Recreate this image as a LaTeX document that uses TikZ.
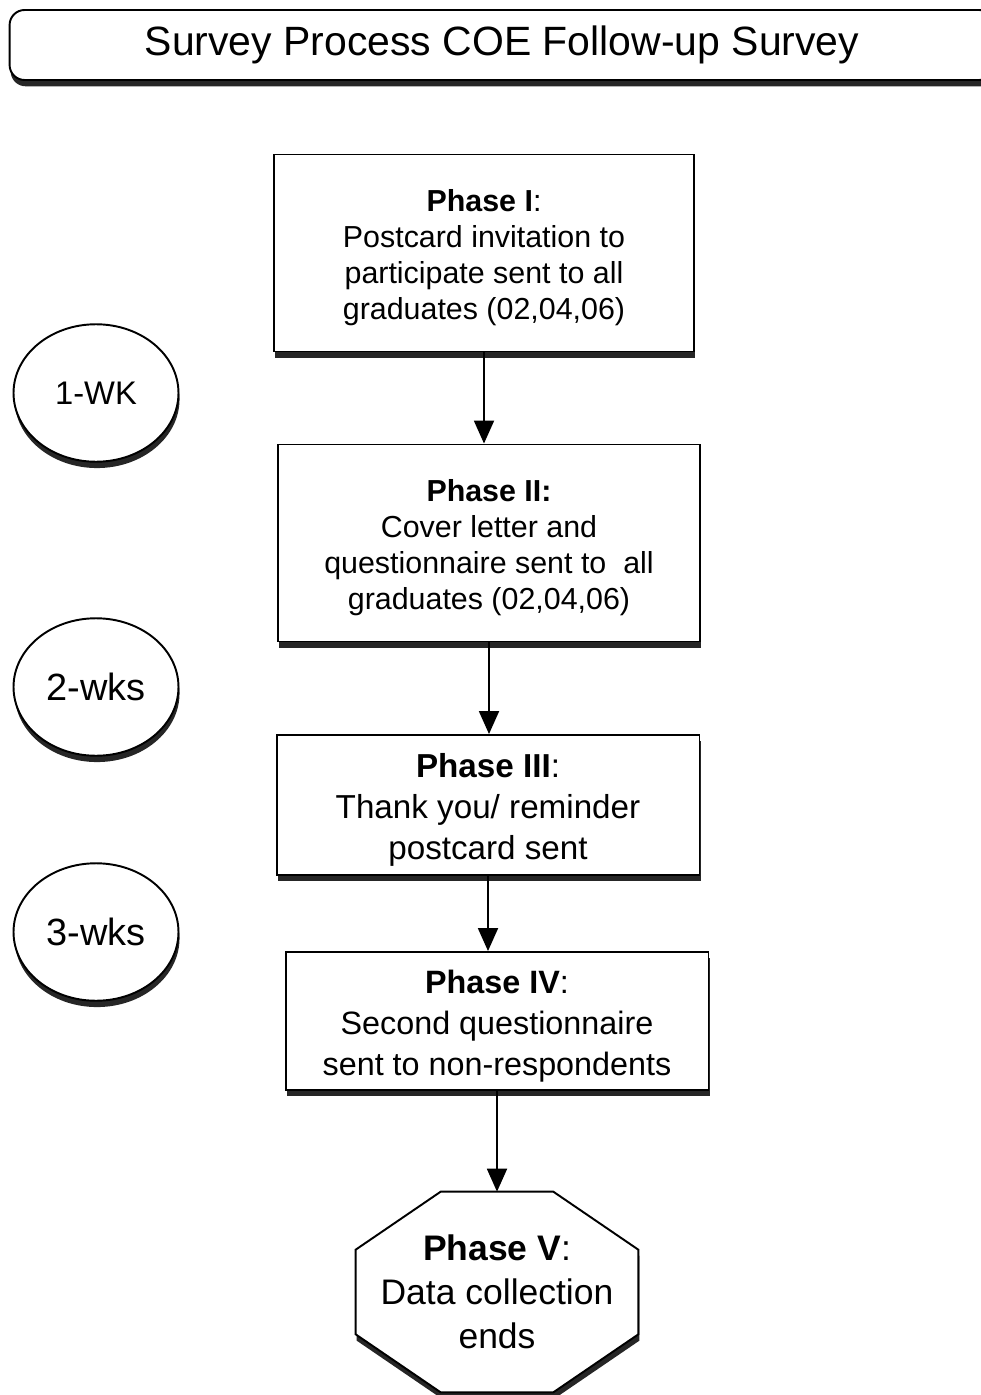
\documentclass[tikz,border=0pt]{standalone}
\usepackage{fontspec}
\setmainfont{Liberation Sans}
\usetikzlibrary{arrows.meta,shapes.geometric,shadows,calc,backgrounds}
\newcommand{\topstrut}{\rule{0pt}{1.03em}}
\begin{document}
\begin{tikzpicture}[x=0.02cm,y=-0.02cm,
  shade/.style={drop shadow={shadow xshift=0.6pt,shadow yshift=-3.6pt,fill=black,opacity=0.85}},
  phasebox/.style={draw,line width=1.1pt,fill=white,align=center,inner sep=0pt,shade},
  weekball/.style={ellipse,draw,line width=1.1pt,fill=white,inner sep=0pt,shade,
    minimum width=3.3cm,minimum height=2.75cm},
  arr/.style={line width=1.1pt,-{Triangle[length=0.46cm,width=0.4cm]}}]
\useasboundingbox (0,0) rectangle (980,1395);
\node[draw,line width=1.1pt,fill=white,shade,rounded corners=0.3cm,minimum width=19.7cm,minimum height=1.4cm,
  font=\fontsize{23.3}{28}\selectfont](title) at (502,45){Survey Process COE Follow-up Survey};
\node[phasebox,minimum width=8.4cm,minimum height=3.94cm,font=\fontsize{17.3}{20.5}\selectfont]
  (p1) at (484,253){\topstrut\textbf{Phase I}:\\Postcard invitation to\\participate sent to all\\graduates (02,04,06)};
\node[phasebox,minimum width=8.44cm,minimum height=3.94cm,font=\fontsize{17.3}{20.5}\selectfont]
  (p2) at (489,543){\topstrut\textbf{Phase II:}\\Cover letter and\\questionnaire sent to\ \ all\\graduates (02,04,06)};
\node[phasebox,minimum width=8.46cm,minimum height=2.8cm,font=\fontsize{18.9}{23.3}\selectfont]
  (p3) at (488,805){\topstrut\textbf{Phase III}:\\Thank you/ reminder\\postcard sent};
\node[phasebox,minimum width=8.46cm,minimum height=2.76cm,font=\fontsize{18.4}{23.3}\selectfont]
  (p4) at (497,1021){\topstrut\textbf{Phase IV}:\\Second questionnaire\\sent to non-respondents};
% end phase: octagon drawn behind its text
\node[align=center,inner sep=0pt,minimum width=5.64cm,minimum height=4cm,font=\fontsize{20.2}{25}\selectfont]
  (p5) at (497,1292){\textbf{Phase V}:\\Data collection\\ends};
\begin{pgfonlayer}{background}
\draw[line width=1.1pt,fill=white,shade]($(p5.north west)+(85,0)$)--($(p5.north east)+(-85,0)$)--($(p5.north east)+(0,58)$)
  --($(p5.south east)+(0,-58)$)--($(p5.south east)+(-85,0)$)--($(p5.south west)+(85,0)$)
  --($(p5.south west)+(0,-58)$)--($(p5.north west)+(0,58)$)--cycle;
\end{pgfonlayer}
\foreach \y/\t/\n/\s in {393/1-WK/wk1/18.6,687/2-wks/wk2/21.6,932/3-wks/wk3/21.6}{
  \node[weekball,font=\fontsize{\s}{25}\selectfont](\n) at (96,\y){\t};}
\foreach \a/\b in {p1/p2,p2/p3,p3/p4,p4/p5}{\draw[arr](\a.south)--(\a.south|-\b.north);}
\end{tikzpicture}
\end{document}
